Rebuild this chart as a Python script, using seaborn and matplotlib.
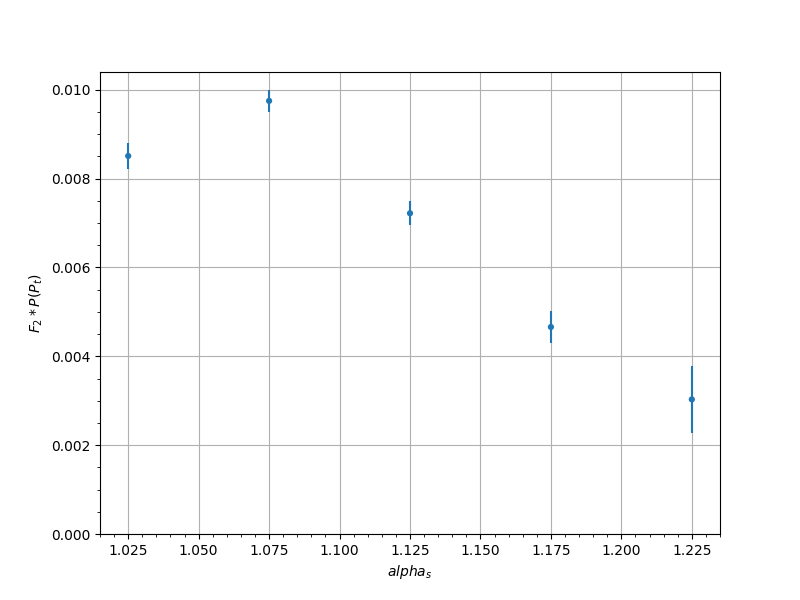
import numpy as np
import pandas as pd
import matplotlib
matplotlib.use("Agg")
import matplotlib.pyplot as plt
import seaborn as sns

# data
alpha_s = [1.025, 1.075, 1.125, 1.175, 1.225]
f2_p    = [0.00851, 0.00975, 0.00722, 0.00466, 0.00303]
f2_err  = [0.00029, 0.00025, 0.00027, 0.00036, 0.00075]

df = pd.DataFrame({"alpha_s": alpha_s, "f2": f2_p, "err": f2_err})

plt.rcParams.update(matplotlib.rcParamsDefault)
fig, ax = plt.subplots(figsize=(8, 6), dpi=100)

ax.errorbar(df["alpha_s"], df["f2"], yerr=df["err"], fmt="none",
            ecolor="#1f77b4", elinewidth=1.5, zorder=2)
sns.scatterplot(data=df, x="alpha_s", y="f2", color="#1f77b4",
                s=20, edgecolor="none", ax=ax, zorder=3)

ax.set_ylim(0, 0.0104)
ax.set_xlim(1.015, 1.235)
ax.set_xticks(alpha_s[:1] + [1.05, 1.075, 1.1, 1.125, 1.15, 1.175, 1.2, 1.225])
ax.minorticks_on()
ax.grid(True, which="major", color="#b0b0b0", lw=0.8)
ax.set_axisbelow(True)
ax.set_xlabel("$alpha_s$")
ax.set_ylabel("$F_2 * P(P_t)$")

plt.savefig("out.png", dpi=100)
